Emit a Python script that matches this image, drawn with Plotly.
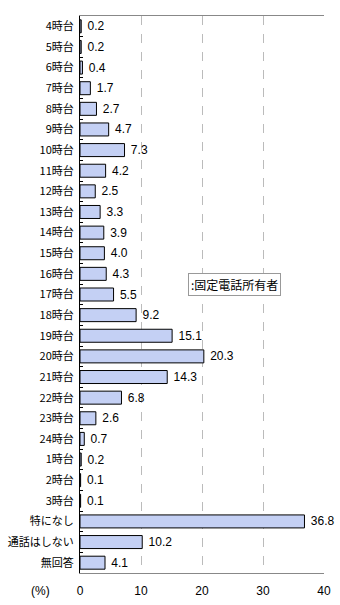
import plotly.graph_objects as go

categories = ["4時台", "5時台", "6時台", "7時台", "8時台", "9時台", "10時台", "11時台", "12時台",
              "13時台", "14時台", "15時台", "16時台", "17時台", "18時台", "19時台", "20時台", "21時台",
              "22時台", "23時台", "24時台", "1時台", "2時台", "3時台", "特になし", "通話はしない", "無回答"]
values = [0.2, 0.2, 0.4, 1.7, 2.7, 4.7, 7.3, 4.2, 2.5, 3.3, 3.9, 4.0, 4.3, 5.5, 9.2, 15.1, 20.3, 14.3,
          6.8, 2.6, 0.7, 0.2, 0.1, 0.1, 36.8, 10.2, 4.1]
tick_vals = [0, 10, 20, 30, 40]
series_name = ":固定電話所有者"

JP = "Noto Sans CJK JP"
NUM = "Liberation Sans"

fig = go.Figure()
fig.add_trace(go.Bar(
    x=values, y=categories, orientation="h",
    marker=dict(color="#c4d0f4", line=dict(color="#000000", width=1)),
    text=[f" {v:.1f}" for v in values], textposition="outside", constraintext="none",
    textfont=dict(family=NUM, size=12, color="#000000"),
    cliponaxis=False, showlegend=False, name=series_name,
))

fig.update_layout(
    width=340, height=605,
    margin=dict(l=80, r=16, t=16, b=32),
    plot_bgcolor="#ffffff", paper_bgcolor="#ffffff",
    bargap=0.37,
    uniformtext=dict(mode=False),
    xaxis=dict(range=[0, 40], tickvals=tick_vals, showgrid=True, automargin=False,
               gridcolor="#bbbbbb", griddash="dash", gridwidth=1,
               zeroline=False, showline=True, linecolor="#888888", mirror=True,
               ticks="", tickfont=dict(family=NUM, size=12, color="#000000"),
               ticklabelstandoff=7),
    yaxis=dict(autorange="reversed", showgrid=False, showline=True, linecolor="#000000",
               linewidth=1, ticks="inside", ticklen=3, tickson="boundaries", tickcolor="#000000",
               automargin=False,
               tickfont=dict(family=JP, size=11, color="#000000"), ticklabelstandoff=3),
    annotations=[
        dict(text="(%)", xref="paper", yref="paper", x=-0.16, y=-0.032, xanchor="center",
             yanchor="middle", showarrow=False, font=dict(family=NUM, size=12, color="#000000")),
        dict(text=series_name, xref="x", yref="paper", x=25.3, y=0.518, xanchor="center",
             yanchor="middle", showarrow=False, bgcolor="#ffffff", bordercolor="#999999",
             borderwidth=1, borderpad=2, font=dict(family=JP, size=12, color="#000000")),
    ],
)

fig.write_html("out.html")
